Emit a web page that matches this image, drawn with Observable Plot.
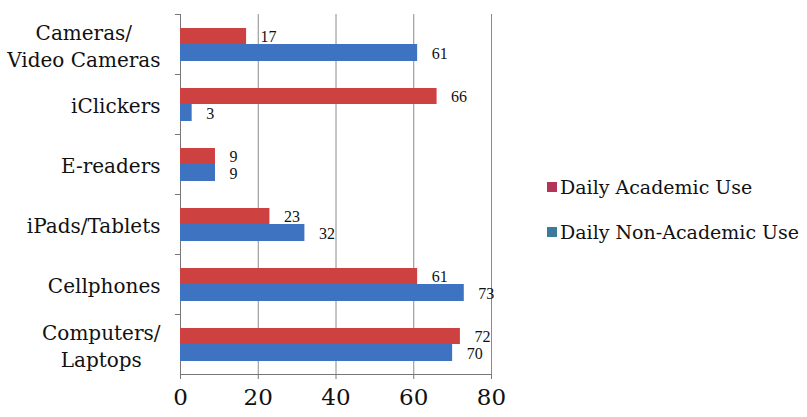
<!DOCTYPE html>
<html><head><meta charset="utf-8">
<script src="https://cdn.jsdelivr.net/npm/d3@7"></script>
<script src="https://cdn.jsdelivr.net/npm/@observablehq/plot@0.6"></script>
<style>body{margin:0;background:#fff}</style>
</head><body><div id="chart"></div>
<script>
const categories = ["Cameras/\nVideo Cameras","iClickers","E-readers","iPads/Tablets","Cellphones","Computers/\nLaptops"];
const academic = [17,66,9,23,61,72];
const nonAcademic = [61,3,9,32,73,70];
const seriesNames = ["Daily Academic Use","Daily Non-Academic Use"];
const xTicks = [0,20,40,60,80];
const colors = ["#cd4141","#3e73c2"];
const legendColors = ["#b3365a","#3b7a98"];

const acad = categories.map((c,i)=>({category:c, value:academic[i]}));
const non = categories.map((c,i)=>({category:c, value:nonAcademic[i]}));

const chart = Plot.plot({
  width:807, height:417,
  marginLeft:180, marginRight:316, marginTop:14, marginBottom:43,
  style:{fontFamily:"DejaVu Serif", background:"white", color:"#111"},
  x:{domain:[0,80], label:null},
  y:{domain:categories, padding:0, label:null},
  marks:[
    Plot.gridX(xTicks,{stroke:"#8a8a8a", strokeOpacity:1}),
    Plot.frame({anchor:"left", stroke:"#777"}),
    Plot.frame({anchor:"bottom", stroke:"#777"}),
    Plot.ruleY(categories,{y:d=>d, dy:-30, x1:-1.3, x2:0, stroke:"#777", clip:false}),
    Plot.barX(acad,{x:"value", y:"category", fill:colors[0], insetTop:14, insetBottom:30}),
    Plot.barX(non,{x:"value", y:"category", fill:colors[1], insetTop:30, insetBottom:13}),
    Plot.text(acad,{x:"value", y:"category", text:d=>String(d.value), dx:14, dy:-8, textAnchor:"start", fontFamily:"Liberation Serif", fontSize:16, fill:"#111"}),
    Plot.text(non,{x:"value", y:"category", text:d=>String(d.value), dx:14, dy:9, textAnchor:"start", fontFamily:"Liberation Serif", fontSize:16, fill:"#111"}),
    Plot.axisX(xTicks,{tickSize:5, tickPadding:9, fontSize:23, stroke:"#777", label:null}),
    Plot.axisY({tickSize:0, tickPadding:20, fontSize:20, lineHeight:1.35, label:null})
  ]
});
document.getElementById("chart").appendChild(chart);

// center multi-line category labels within their block
d3.select(chart).selectAll('g[aria-label="y-axis tick label"] text').each(function(){
  const spans = this.querySelectorAll("tspan");
  if (spans.length > 1) {
    let w = 0;
    spans.forEach(s => { w = Math.max(w, s.getComputedTextLength()); });
    this.setAttribute("text-anchor","middle");
    spans.forEach(s => s.setAttribute("x", -w/2));
  }
});

// legend
const svg = d3.select(chart);
const lg = svg.append("g").attr("font-family","DejaVu Serif").attr("font-size",19).attr("fill","#111").attr("text-anchor","start");
seriesNames.forEach((name,i)=>{
  const y0 = 187 + i*45;
  lg.append("rect").attr("x",547).attr("y",y0-5).attr("width",10).attr("height",10).attr("fill",legendColors[i]);
  lg.append("text").attr("x",560).attr("y",y0).attr("dy","0.35em").text(name);
});
</script>
</body></html>
